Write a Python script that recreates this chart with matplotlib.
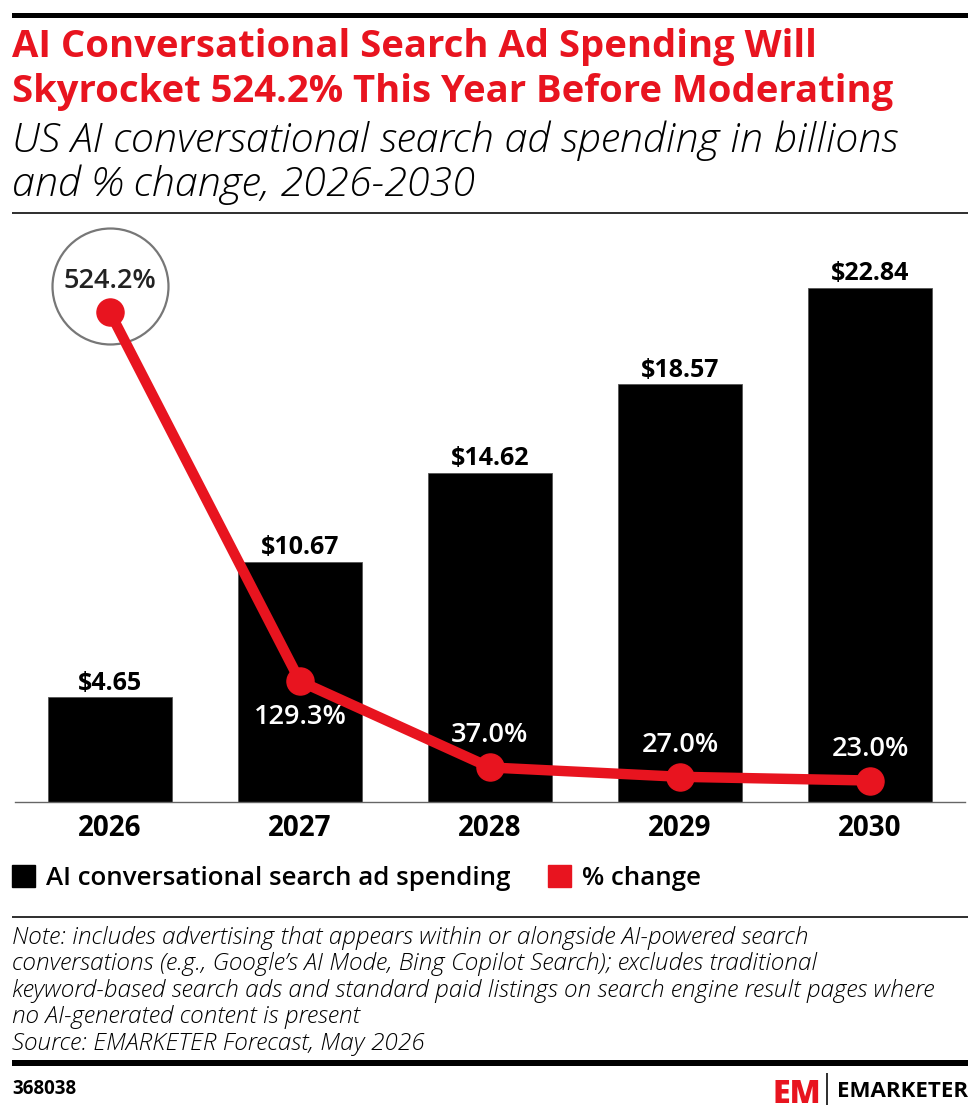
import numpy as np
import matplotlib
matplotlib.use("Agg")
import matplotlib.pyplot as plt
import matplotlib.transforms as mtransforms
from matplotlib.patches import Rectangle, Patch

# data
years = ["2026", "2027", "2028", "2029", "2030"]
spending = [4.65, 10.67, 14.62, 18.57, 22.84]
pct_change = [524.2, 129.3, 37.0, 27.0, 23.0]

RED = "#E8141F"
W, H = 980, 1115
plt.rcParams['font.family'] = ['Open Sans', 'DejaVu Sans']

fig = plt.figure(figsize=(W / 100, H / 100), dpi=100)


def fx(x):
    return x / W


def fy(y):
    return 1 - y / H


def hbar(x0, x1, y0, y1, color):
    fig.add_artist(Rectangle((fx(x0), fy(y1)), fx(x1 - x0), (y1 - y0) / H,
                             transform=fig.transFigure, color=color, lw=0))


# header
hbar(12, 968, 13, 18, "black")
fig.text(fx(12), fy(57), "AI Conversational Search Ad Spending Will", color=RED,
         fontsize=27.5, fontweight="bold", va="baseline")
fig.text(fx(12), fy(102), "Skyrocket 524.2% This Year Before Moderating", color=RED,
         fontsize=27.5, fontweight="bold", va="baseline")
fig.text(fx(12), fy(152), "US AI conversational search ad spending in billions",
         fontsize=29.8, fontstyle="italic", fontweight="light", va="baseline")
fig.text(fx(12), fy(196), "and % change, 2026-2030",
         fontsize=29.8, fontstyle="italic", fontweight="light", va="baseline")
hbar(12, 968, 212, 214, "#333333")

# chart
ax = fig.add_axes([fx(15), fy(802), fx(950), 572 / H])
x = np.arange(len(years))
ax.bar(x, spending, width=0.65, color="black", edgecolor="#555555", linewidth=0.6)
ax.set_xlim(-0.5, 4.5)
ax.set_ylim(0, 572 / 22.5)
ax.set_yticks([])
ax.set_xticks(x)
ax.set_xticklabels(years, fontsize=20, fontweight="bold")
ax.tick_params(axis="x", length=0, pad=9)
for s in ["top", "left", "right"]:
    ax.spines[s].set_visible(False)
ax.spines["bottom"].set_color("#666666")
ax.spines["bottom"].set_linewidth(1)
for xi, v in zip(x, spending):
    ax.annotate(f"${v:.2f}", (xi, v), xytext=(0, 5.5), textcoords="offset points",
                ha="center", va="baseline", fontsize=18, fontweight="bold")

ax2 = ax.twinx()
ax2.set_ylim(0, 572 / 0.934)
ax2.axis("off")
ax2.plot(x, pct_change, color=RED, lw=7.5, marker="o", ms=19.5, solid_capstyle="round",
         zorder=3)

# highlight ring around the first point, shifted up a little
ring_shift = mtransforms.ScaledTranslation(0, 0.26, fig.dpi_scale_trans)
ax2.plot(x[:1], pct_change[:1], marker="o", ms=83.5, mfc="none", mec="#777777",
         mew=1.6, ls="none", transform=ax2.transData + ring_shift, zorder=2,
         clip_on=False)
ax2.annotate(f"{pct_change[0]:.1f}%", (x[0], pct_change[0]), xytext=(0, 22.5),
             textcoords="offset points", ha="center", va="center",
             fontsize=19.5, fontweight="semibold", color="#222222")
ax2.annotate(f"{pct_change[1]:.1f}%", (x[1], pct_change[1]), xytext=(0, -26),
             textcoords="offset points", ha="center", va="center",
             fontsize=19.5, fontweight="semibold", color="white")
for xi, v in zip(x[2:], pct_change[2:]):
    ax2.annotate(f"{v:.1f}%", (xi, v), xytext=(0, 23), textcoords="offset points",
                 ha="center", va="center", fontsize=19.5, fontweight="semibold",
                 color="white")

# legend
handles = [Patch(color="black", label="AI conversational search ad spending"),
           Patch(color=RED, label="% change")]
fig.legend(handles=handles, loc="center left", bbox_to_anchor=(fx(12), fy(878)),
           ncol=2, frameon=False, handlelength=0.9, handleheight=0.9,
           handletextpad=0.43, columnspacing=1.43, borderpad=0, borderaxespad=0,
           prop=dict(size=18.6, weight="semibold"))

# note
hbar(12, 968, 916, 918, "#333333")
note = ["Note: includes advertising that appears within or alongside AI-powered search",
        "conversations (e.g., Google\u2019s AI Mode, Bing Copilot Search); excludes traditional",
        "keyword-based search ads and standard paid listings on search engine result pages where",
        "no AI-generated content is present",
        "Source: EMARKETER Forecast, May 2026"]
for i, line in enumerate(note):
    fig.text(fx(12), fy(944 + 26.4 * i), line, fontsize=17.6, fontstyle="italic",
             fontweight="light", va="baseline")

# footer
hbar(12, 968, 1060, 1066, "black")
fig.text(fx(12), fy(1094), "368038", fontsize=13.5, fontweight="bold", va="baseline")
fig.text(fx(772), fy(1103), "EM", color=RED, fontsize=23, fontweight="black",
         va="baseline")
hbar(826, 827.5, 1073, 1105, "#333333")
fig.text(fx(968), fy(1097), "EMARKETER", fontsize=16, fontweight="bold",
         va="baseline", ha="right")

fig.savefig("out.png", dpi=100)
